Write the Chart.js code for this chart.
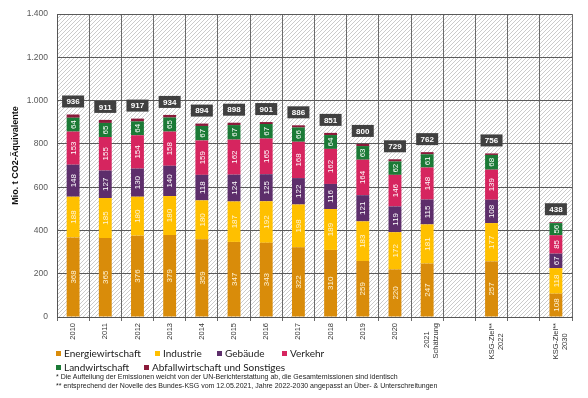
<!DOCTYPE html>
<html>
<head>
<meta charset="utf-8">
<script src="https://cdn.jsdelivr.net/npm/chart.js@4.4.1/dist/chart.umd.min.js"></script>
<style>
  body { margin: 0; background: #fff; }
  #wrap { position: relative; width: 588px; height: 398px; font-family: "Liberation Sans", Arial, sans-serif; }
  .lg { position: absolute; font-family: Lato, "Liberation Sans", sans-serif; font-size: 10px; color: #1a1a1a; white-space: nowrap; line-height: 12px; }
  .lg i { display: inline-block; width: 5px; height: 5px; margin-right: 3px; vertical-align: 1px; }
  .fn { position: absolute; left: 56px; font-size: 7px; color: #222; white-space: nowrap; line-height: 8px; }
</style>
</head>
<body>
<div id="wrap">
  <canvas id="graph1" width="588" height="398"></canvas>
  <div id="legend"></div>
  <div class="fn" style="top:373px">* Die Aufteilung der Emissionen weicht von der UN-Berichterstattung ab, die Gesamtemissionen sind identisch</div>
  <div class="fn" style="top:382px">** entsprechend der Novelle des Bundes-KSG vom 12.05.2021, Jahre 2022-2030 angepasst an Über- &amp; Unterschreitungen</div>
</div>
<script>
// Daten (Mio. t CO2-Äquivalente)
var jahre = ['2010', '2011', '2012', '2013', '2014', '2015', '2016', '2017', '2018', '2019', '2020',
    ['2021    ', 'Schätzung'], '', ['KSG-Ziel**', '2022     '], '', ['KSG-Ziel**', '2030     ']]
var energie   = [368, 365, 376, 379, 359, 347, 343, 322, 310, 259, 220, 247, null, 257, null, 108]
var industrie = [188, 185, 180, 180, 180, 187, 192, 198, 189, 183, 172, 181, null, 177, null, 118]
var gebaeude  = [148, 127, 130, 140, 118, 124, 125, 122, 116, 121, 119, 115, null, 108, null, 67]
var verkehr   = [153, 155, 154, 158, 159, 162, 165, 168, 162, 164, 146, 148, null, 139, null, 85]
var landwirt  = [64, 65, 64, 65, 67, 67, 67, 66, 64, 63, 62, 61, null, 68, null, 56]
var abfall    = [15, 14, 13, 12, 11, 11, 9, 10, 10, 10, 10, 10, null, 7, null, 4]
var gesamt    = [936, 911, 917, 934, 894, 898, 901, 886, 851, 800, 729, 762, null, 756, null, 438]

var namen  = ['Energiewirtschaft', 'Industrie', 'Gebäude', 'Verkehr', 'Landwirtschaft', 'Abfallwirtschaft und Sonstiges']
var farben = ['#d98c0a', '#ffc000', '#5d2e6b', '#d6255f', '#1b7a36', '#8b1a3a']
var reihen = [energie, industrie, gebaeude, verkehr, landwirt, abfall]

function punkte(v) {
    return String(v).replace(/\B(?=(\d{3})+(?!\d))/g, '.')
}

// schraffierter Hintergrund
function schraffur() {
    var c = document.createElement('canvas')
    c.width = 4; c.height = 4
    var g = c.getContext('2d')
    g.strokeStyle = '#cbcbcb'
    g.lineWidth = 1
    g.beginPath()
    g.moveTo(-1, 5); g.lineTo(5, -1)
    g.moveTo(-1, 1); g.lineTo(1, -1)
    g.moveTo(3, 5); g.lineTo(5, 3)
    g.stroke()
    return c
}

var hintergrund = {
    id: 'hintergrund',
    beforeDraw: function(chart) {
        var a = chart.chartArea, ctx = chart.ctx
        ctx.save()
        ctx.fillStyle = ctx.createPattern(schraffur(), 'repeat')
        ctx.fillRect(a.left, a.top, a.right - a.left, a.bottom - a.top)
        ctx.restore()
    }
}

var beschriftung = {
    id: 'beschriftung',
    afterDatasetsDraw: function(chart) {
        var ctx = chart.ctx
        ctx.save()
        // Werte in den Segmenten
        for (var d = 0; d < 5; d++) {
            var meta = chart.getDatasetMeta(d)
            meta.data.forEach(function(el, i) {
                var v = reihen[d][i]
                if (v == null) return
                var mitte = (el.y + el.base) / 2
                ctx.save()
                ctx.translate(el.x, mitte)
                ctx.rotate(-Math.PI / 2)
                ctx.font = '8px "Liberation Sans", Arial, sans-serif'
                ctx.fillStyle = d < 2 ? '#fff4d8' : '#ffffff'
                ctx.textAlign = 'center'
                ctx.textBaseline = 'middle'
                ctx.fillText(v, 0, 0.5)
                ctx.restore()
            })
        }
        // Summen
        var oben = chart.getDatasetMeta(5)
        oben.data.forEach(function(el, i) {
            if (gesamt[i] == null) return
            var y = el.y - 13
            ctx.fillStyle = '#404040'
            ctx.fillRect(el.x - 11, y - 6, 22, 12)
            ctx.fillStyle = '#ffffff'
            ctx.font = 'bold 8px "Liberation Sans", Arial, sans-serif'
            ctx.textAlign = 'center'
            ctx.textBaseline = 'middle'
            ctx.fillText(gesamt[i], el.x, y + 0.5)
        })
        ctx.restore()
    }
}

var datasets = namen.map(function(n, k) {
    return {
        label: n,
        data: reihen[k],
        backgroundColor: farben[k],
        borderWidth: 0,
        barPercentage: 0.4,
        categoryPercentage: 1.0
    }
})

var ctx = document.getElementById('graph1').getContext('2d')
var graph1 = new Chart(ctx, {
    type: 'bar',
    data: { labels: jahre, datasets: datasets },
    options: {
        responsive: false,
        animation: false,
        layout: { padding: { left: 0, right: 16, top: 9, bottom: 0 } },
        plugins: { legend: { display: false }, tooltip: { enabled: false } },
        scales: {
            x: {
                stacked: true,
                afterFit: function(s) { s.height = 81 },
                grid: { color: '#6a6a6a', lineWidth: 1, offset: true, tickLength: 4 },
                border: { color: '#555', width: 1 },
                ticks: {
                    autoSkip: false, minRotation: 90, maxRotation: 90, padding: 2,
                    color: '#333', font: { family: '"Liberation Sans", Arial, sans-serif', size: 7.5 }
                }
            },
            y: {
                stacked: true,
                min: 0, max: 1400,
                afterFit: function(s) { s.width = 57 },
                grid: { color: '#5a5a5a', lineWidth: 1, drawTicks: false },
                border: { color: '#555', width: 1 },
                ticks: {
                    stepSize: 200, padding: 9, color: '#595959',
                    font: { family: '"Liberation Sans", Arial, sans-serif', size: 8.5 },
                    callback: function(v) { return punkte(v) }
                },
                title: {
                    display: true, text: '        Mio. t CO2-Äquivalente', color: '#111',
                    padding: { top: 10, bottom: 0 },
                    font: { family: '"Liberation Sans", Arial, sans-serif', size: 9, weight: 'bold' }
                }
            }
        }
    },
    plugins: [hintergrund, beschriftung]
})

// Legende unten links
var legendPos = [[56, 347], [155, 347], [217, 347], [282, 347], [56, 361], [144, 361]]
var lg = document.getElementById('legend')
namen.forEach(function(n, k) {
    var s = document.createElement('div')
    s.className = 'lg'
    s.style.left = legendPos[k][0] + 'px'
    s.style.top = legendPos[k][1] + 'px'
    s.innerHTML = '<i style="background:' + farben[k] + '"></i>' + n
    lg.appendChild(s)
})
</script>
</body>
</html>
